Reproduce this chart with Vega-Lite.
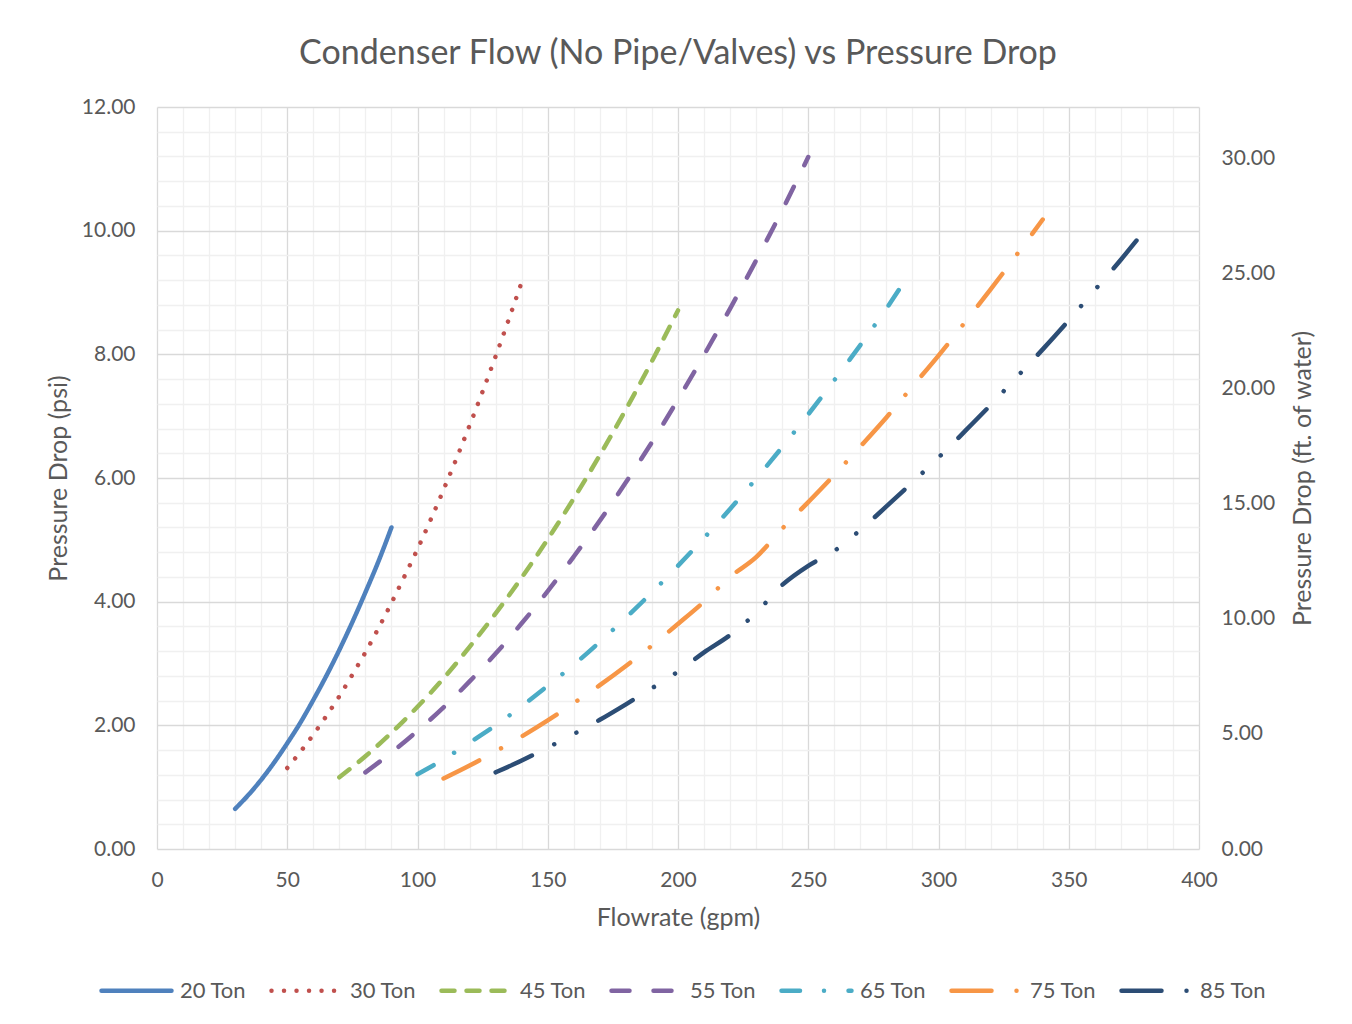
{
  "$schema": "https://vega.github.io/schema/vega-lite/v6.json",
  "width": 1042,
  "height": 742,
  "autosize": {"type": "none"},
  "padding": {"left": 157, "top": 107, "right": 153, "bottom": 175},
  "background": "white",
  "config": {
    "font": "Lato",
    "view": {"stroke": null},
    "axis": {
      "labelColor": "#595959",
      "titleColor": "#595959",
      "labelFont": "Lato",
      "titleFont": "Lato",
      "titleFontWeight": "normal",
      "labelFontSize": 21,
      "titleFontSize": 25,
      "ticks": false,
      "domain": false,
      "labelOverlap": false,
      "labelFlush": false
    }
  },
  "title": {
    "text": "Condenser Flow (No Pipe/Valves) vs Pressure Drop",
    "fontSize": 34,
    "fontWeight": "normal",
    "color": "#595959",
    "font": "Lato",
    "anchor": "middle",
    "offset": 25
  },
  "data": {
    "values": [
      {"series": "20 Ton", "gpm": 30, "psi": 0.65},
      {"series": "20 Ton", "gpm": 35, "psi": 0.87},
      {"series": "20 Ton", "gpm": 40, "psi": 1.12},
      {"series": "20 Ton", "gpm": 45, "psi": 1.40},
      {"series": "20 Ton", "gpm": 50, "psi": 1.71},
      {"series": "20 Ton", "gpm": 55, "psi": 2.04},
      {"series": "20 Ton", "gpm": 60, "psi": 2.41},
      {"series": "20 Ton", "gpm": 65, "psi": 2.80},
      {"series": "20 Ton", "gpm": 70, "psi": 3.22},
      {"series": "20 Ton", "gpm": 75, "psi": 3.67},
      {"series": "20 Ton", "gpm": 80, "psi": 4.15},
      {"series": "20 Ton", "gpm": 85, "psi": 4.65},
      {"series": "20 Ton", "gpm": 90, "psi": 5.20},
      {"series": "30 Ton", "gpm": 50, "psi": 1.31},
      {"series": "30 Ton", "gpm": 55, "psi": 1.57},
      {"series": "30 Ton", "gpm": 60, "psi": 1.85},
      {"series": "30 Ton", "gpm": 65, "psi": 2.15},
      {"series": "30 Ton", "gpm": 70, "psi": 2.47},
      {"series": "30 Ton", "gpm": 75, "psi": 2.82},
      {"series": "30 Ton", "gpm": 80, "psi": 3.18},
      {"series": "30 Ton", "gpm": 85, "psi": 3.57},
      {"series": "30 Ton", "gpm": 90, "psi": 3.98},
      {"series": "30 Ton", "gpm": 95, "psi": 4.41},
      {"series": "30 Ton", "gpm": 100, "psi": 4.85},
      {"series": "30 Ton", "gpm": 105, "psi": 5.32},
      {"series": "30 Ton", "gpm": 110, "psi": 5.81},
      {"series": "30 Ton", "gpm": 115, "psi": 6.32},
      {"series": "30 Ton", "gpm": 120, "psi": 6.85},
      {"series": "30 Ton", "gpm": 125, "psi": 7.40},
      {"series": "30 Ton", "gpm": 130, "psi": 7.97},
      {"series": "30 Ton", "gpm": 135, "psi": 8.56},
      {"series": "30 Ton", "gpm": 140, "psi": 9.17},
      {"series": "45 Ton", "gpm": 70, "psi": 1.16},
      {"series": "45 Ton", "gpm": 80, "psi": 1.50},
      {"series": "45 Ton", "gpm": 90, "psi": 1.88},
      {"series": "45 Ton", "gpm": 100, "psi": 2.30},
      {"series": "45 Ton", "gpm": 110, "psi": 2.76},
      {"series": "45 Ton", "gpm": 120, "psi": 3.27},
      {"series": "45 Ton", "gpm": 130, "psi": 3.81},
      {"series": "45 Ton", "gpm": 140, "psi": 4.39},
      {"series": "45 Ton", "gpm": 150, "psi": 5.01},
      {"series": "45 Ton", "gpm": 160, "psi": 5.67},
      {"series": "45 Ton", "gpm": 170, "psi": 6.37},
      {"series": "45 Ton", "gpm": 180, "psi": 7.11},
      {"series": "45 Ton", "gpm": 190, "psi": 7.89},
      {"series": "45 Ton", "gpm": 200, "psi": 8.71},
      {"series": "55 Ton", "gpm": 80, "psi": 1.24},
      {"series": "55 Ton", "gpm": 90, "psi": 1.56},
      {"series": "55 Ton", "gpm": 100, "psi": 1.91},
      {"series": "55 Ton", "gpm": 110, "psi": 2.29},
      {"series": "55 Ton", "gpm": 120, "psi": 2.71},
      {"series": "55 Ton", "gpm": 130, "psi": 3.16},
      {"series": "55 Ton", "gpm": 140, "psi": 3.65},
      {"series": "55 Ton", "gpm": 150, "psi": 4.17},
      {"series": "55 Ton", "gpm": 160, "psi": 4.73},
      {"series": "55 Ton", "gpm": 170, "psi": 5.31},
      {"series": "55 Ton", "gpm": 180, "psi": 5.93},
      {"series": "55 Ton", "gpm": 190, "psi": 6.58},
      {"series": "55 Ton", "gpm": 200, "psi": 7.27},
      {"series": "55 Ton", "gpm": 210, "psi": 7.99},
      {"series": "55 Ton", "gpm": 220, "psi": 8.74},
      {"series": "55 Ton", "gpm": 230, "psi": 9.52},
      {"series": "55 Ton", "gpm": 240, "psi": 10.33},
      {"series": "55 Ton", "gpm": 250, "psi": 11.19},
      {"series": "65 Ton", "gpm": 100, "psi": 1.21},
      {"series": "65 Ton", "gpm": 110, "psi": 1.45},
      {"series": "65 Ton", "gpm": 120, "psi": 1.72},
      {"series": "65 Ton", "gpm": 130, "psi": 2.00},
      {"series": "65 Ton", "gpm": 140, "psi": 2.31},
      {"series": "65 Ton", "gpm": 150, "psi": 2.64},
      {"series": "65 Ton", "gpm": 160, "psi": 2.98},
      {"series": "65 Ton", "gpm": 170, "psi": 3.35},
      {"series": "65 Ton", "gpm": 180, "psi": 3.74},
      {"series": "65 Ton", "gpm": 190, "psi": 4.15},
      {"series": "65 Ton", "gpm": 200, "psi": 4.58},
      {"series": "65 Ton", "gpm": 210, "psi": 5.03},
      {"series": "65 Ton", "gpm": 220, "psi": 5.50},
      {"series": "65 Ton", "gpm": 230, "psi": 5.99},
      {"series": "65 Ton", "gpm": 240, "psi": 6.50},
      {"series": "65 Ton", "gpm": 250, "psi": 7.03},
      {"series": "65 Ton", "gpm": 260, "psi": 7.58},
      {"series": "65 Ton", "gpm": 270, "psi": 8.15},
      {"series": "65 Ton", "gpm": 280, "psi": 8.74},
      {"series": "65 Ton", "gpm": 288, "psi": 9.25},
      {"series": "75 Ton", "gpm": 110, "psi": 1.14},
      {"series": "75 Ton", "gpm": 120, "psi": 1.35},
      {"series": "75 Ton", "gpm": 130, "psi": 1.58},
      {"series": "75 Ton", "gpm": 140, "psi": 1.82},
      {"series": "75 Ton", "gpm": 150, "psi": 2.08},
      {"series": "75 Ton", "gpm": 160, "psi": 2.36},
      {"series": "75 Ton", "gpm": 170, "psi": 2.65},
      {"series": "75 Ton", "gpm": 180, "psi": 2.96},
      {"series": "75 Ton", "gpm": 190, "psi": 3.29},
      {"series": "75 Ton", "gpm": 200, "psi": 3.64},
      {"series": "75 Ton", "gpm": 210, "psi": 4.00},
      {"series": "75 Ton", "gpm": 220, "psi": 4.40},
      {"series": "75 Ton", "gpm": 230, "psi": 4.72},
      {"series": "75 Ton", "gpm": 240, "psi": 5.18},
      {"series": "75 Ton", "gpm": 250, "psi": 5.61},
      {"series": "75 Ton", "gpm": 260, "psi": 6.05},
      {"series": "75 Ton", "gpm": 270, "psi": 6.51},
      {"series": "75 Ton", "gpm": 280, "psi": 6.98},
      {"series": "75 Ton", "gpm": 290, "psi": 7.48},
      {"series": "75 Ton", "gpm": 300, "psi": 7.98},
      {"series": "75 Ton", "gpm": 310, "psi": 8.51},
      {"series": "75 Ton", "gpm": 320, "psi": 9.05},
      {"series": "75 Ton", "gpm": 330, "psi": 9.61},
      {"series": "75 Ton", "gpm": 340, "psi": 10.18},
      {"series": "85 Ton", "gpm": 130, "psi": 1.24},
      {"series": "85 Ton", "gpm": 140, "psi": 1.43},
      {"series": "85 Ton", "gpm": 150, "psi": 1.64},
      {"series": "85 Ton", "gpm": 160, "psi": 1.86},
      {"series": "85 Ton", "gpm": 170, "psi": 2.09},
      {"series": "85 Ton", "gpm": 180, "psi": 2.34},
      {"series": "85 Ton", "gpm": 190, "psi": 2.60},
      {"series": "85 Ton", "gpm": 200, "psi": 2.87},
      {"series": "85 Ton", "gpm": 210, "psi": 3.18},
      {"series": "85 Ton", "gpm": 220, "psi": 3.46},
      {"series": "85 Ton", "gpm": 230, "psi": 3.82},
      {"series": "85 Ton", "gpm": 240, "psi": 4.27},
      {"series": "85 Ton", "gpm": 250, "psi": 4.58},
      {"series": "85 Ton", "gpm": 260, "psi": 4.82},
      {"series": "85 Ton", "gpm": 270, "psi": 5.16},
      {"series": "85 Ton", "gpm": 280, "psi": 5.54},
      {"series": "85 Ton", "gpm": 290, "psi": 5.93},
      {"series": "85 Ton", "gpm": 300, "psi": 6.33},
      {"series": "85 Ton", "gpm": 310, "psi": 6.75},
      {"series": "85 Ton", "gpm": 320, "psi": 7.18},
      {"series": "85 Ton", "gpm": 330, "psi": 7.63},
      {"series": "85 Ton", "gpm": 340, "psi": 8.08},
      {"series": "85 Ton", "gpm": 350, "psi": 8.55},
      {"series": "85 Ton", "gpm": 360, "psi": 9.04},
      {"series": "85 Ton", "gpm": 370, "psi": 9.53},
      {"series": "85 Ton", "gpm": 376, "psi": 9.84}
    ]
  },
  "encoding": {
    "x": {
      "field": "gpm",
      "type": "quantitative",
      "scale": {"domain": [0, 400], "nice": false},
      "axis": {
        "title": "Flowrate (gpm)",
        "values": [0, 10, 20, 30, 40, 50, 60, 70, 80, 90, 100, 110, 120, 130, 140, 150, 160, 170, 180, 190, 200, 210, 220, 230, 240, 250, 260, 270, 280, 290, 300, 310, 320, 330, 340, 350, 360, 370, 380, 390, 400],
        "labelExpr": "datum.value % 50 === 0 ? datum.value : ''",
        "gridColor": {"condition": {"test": "datum.value % 50 === 0", "value": "#D9D9D9"}, "value": "#F0F0F0"},
        "gridWidth": 1.3,
        "labelPadding": 20,
        "titlePadding": 15
      }
    },
    "color": {
      "field": "series",
      "type": "nominal",
      "scale": {
        "domain": ["20 Ton", "30 Ton", "45 Ton", "55 Ton", "65 Ton", "75 Ton", "85 Ton"],
        "range": ["#4F81BD", "#C0504D", "#9BBB59", "#8064A2", "#4BACC6", "#F79646", "#2C4D75"]
      },
      "legend": {
        "orient": "none",
        "legendX": -58,
        "legendY": 846,
        "direction": "horizontal",
        "title": null,
        "symbolType": "stroke",
        "symbolSize": 4900,
        "symbolStrokeWidth": 4.5,
        "labelFontSize": 22,
        "labelColor": "#595959",
        "labelFont": "Lato",
        "labelOffset": 6,
        "columnPadding": 15,
        "padding": 0,
        "encode": {"symbols": {"update": {"strokeCap": {"value": "round"}}}}
      }
    },
    "strokeDash": {
      "field": "series",
      "type": "nominal",
      "scale": {
        "domain": ["20 Ton", "30 Ton", "45 Ton", "55 Ton", "65 Ton", "75 Ton", "85 Ton"],
        "range": [[1, 0], [0.01, 12.5], [13, 12], [18, 24], [18.5, 24, 0.01, 24.5], [40, 25, 0.01, 25], [40, 25, 0.01, 25, 0.01, 25]]
      },
      "legend": {
        "orient": "none",
        "legendX": -58,
        "legendY": 846,
        "direction": "horizontal",
        "title": null,
        "symbolType": "stroke",
        "symbolSize": 4900,
        "symbolStrokeWidth": 4.5,
        "labelFontSize": 22,
        "labelColor": "#595959",
        "labelFont": "Lato",
        "labelOffset": 6,
        "columnPadding": 15,
        "padding": 0,
        "encode": {"symbols": {"update": {"strokeCap": {"value": "round"}}}}
      }
    }
  },
  "layer": [
    {
      "transform": [{"filter": {"field": "series", "oneOf": ["20 Ton", "30 Ton", "45 Ton"]}}],
      "mark": {"type": "line", "strokeWidth": 4.5, "strokeCap": "round", "strokeJoin": "round", "interpolate": "monotone"},
      "encoding": {
        "y": {
          "field": "psi",
          "type": "quantitative",
          "scale": {"domain": [0, 12], "nice": false},
          "axis": {
            "orient": "left",
            "title": "Pressure Drop (psi)",
            "values": [0, 0.4, 0.8, 1.2, 1.6, 2, 2.4, 2.8, 3.2, 3.6, 4, 4.4, 4.8, 5.2, 5.6, 6, 6.4, 6.8, 7.2, 7.6, 8, 8.4, 8.8, 9.2, 9.6, 10, 10.4, 10.8, 11.2, 11.6, 12],
            "labelExpr": "abs(datum.value - 2*round(datum.value/2)) < 0.01 ? format(datum.value, '.2f') : ''",
            "gridColor": {"condition": {"test": "abs(datum.value - 2*round(datum.value/2)) < 0.01", "value": "#D9D9D9"}, "value": "#F0F0F0"},
            "gridWidth": 1.3,
            "labelPadding": 22,
            "titlePadding": 10
          }
        }
      }
    },
    {
      "transform": [{"filter": {"field": "series", "oneOf": ["55 Ton", "65 Ton", "75 Ton", "85 Ton"]}}],
      "mark": {"type": "line", "strokeWidth": 4.5, "strokeCap": "round", "strokeJoin": "round", "interpolate": "monotone"},
      "encoding": {
        "y": {
          "field": "psi",
          "type": "quantitative",
          "scale": {"domain": [0, 12], "nice": false},
          "axis": {
            "orient": "right",
            "title": "Pressure Drop (ft. of water)",
            "titleAngle": 270,
            "values": [0, 1.8599, 3.7198, 5.5797, 7.4396, 9.2995, 11.1594],
            "labelExpr": "format(datum.value * 32.26 / 12, '.2f')",
            "grid": false,
            "labelPadding": 22,
            "titlePadding": 41
          }
        }
      }
    }
  ],
  "resolve": {"axis": {"y": "independent"}}
}
